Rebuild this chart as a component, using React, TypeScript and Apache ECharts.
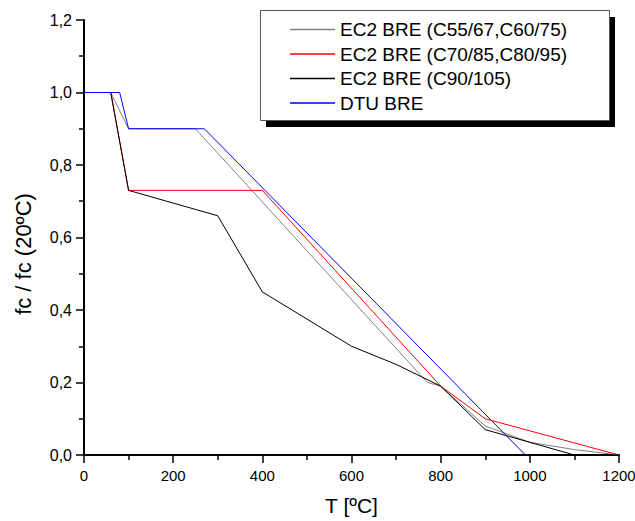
import React, { useEffect, useRef } from "react";
import * as echarts from "echarts";

const seriesNames = [
  "EC2 BRE (C55/67,C60/75)",
  "EC2 BRE (C70/85,C80/95)",
  "EC2 BRE (C90/105)",
  "DTU BRE",
];
const seriesColors = ["#808080", "#ff0000", "#000000", "#0000ff"];

const grayT = [0, 60, 100, 250, 770, 800, 900, 1000, 1100, 1200];
const grayV = [1, 1, 0.9, 0.9, 0.2, 0.19, 0.08, 0.035, 0.015, 0];

const redT = [0, 60, 100, 400, 800, 900, 1200];
const redV = [1, 1, 0.73, 0.73, 0.19, 0.1, 0];

const blackT = [0, 60, 100, 300, 400, 600, 700, 800, 900, 1000, 1100, 1200];
const blackV = [1, 1, 0.73, 0.66, 0.45, 0.3, 0.25, 0.19, 0.07, 0.035, 0, 0];

const blueT = [0, 80, 100, 270, 990];
const blueV = [1, 1, 0.9, 0.9, 0];

const xTitle = "T [ºC]";
const yTitle = "fc / fc (20ºC)";

const FONT = "Liberation Sans, Arial, sans-serif";

function pairs(t: number[], v: number[]) {
  return t.map((x, i) => [x, v[i]]);
}

export default function App() {
  const ref = useRef<HTMLDivElement>(null);
  useEffect(() => {
    if (!ref.current) return;
    const chart = echarts.init(ref.current, null, { renderer: "svg" });
    const datasets = [
      pairs(grayT, grayV),
      pairs(redT, redV),
      pairs(blackT, blackV),
      pairs(blueT, blueV),
    ];
    const axisCommon = {
      axisLine: { show: true, lineStyle: { color: "#000", width: 2 } },
      axisTick: { show: true, inside: false, length: 8, lineStyle: { color: "#000", width: 1.5 } },
      minorTick: { show: true, splitNumber: 2, length: 5, lineStyle: { color: "#000", width: 1.5 } },
      splitLine: { show: false },
      minorSplitLine: { show: false },
    };
    chart.setOption({
      animation: false,
      backgroundColor: "#fff",
      textStyle: { fontFamily: FONT },
      grid: {
        left: 84,
        right: 16,
        top: 20,
        bottom: 66,
        containLabel: false,
        outerBoundsMode: "none",
      },
      xAxis: {
        type: "value",
        min: 0,
        max: 1200,
        interval: 200,
        ...axisCommon,
        axisLabel: {
          color: "#000",
          fontSize: 15,
          margin: 13,
          fontFamily: FONT,
          formatter: (v: number) => String(v),
        },
        name: xTitle,
        nameLocation: "middle",
        nameGap: 40,
        nameTextStyle: { color: "#000", fontSize: 21, fontFamily: FONT },
      },
      yAxis: {
        type: "value",
        min: 0,
        max: 1.2,
        interval: 0.2,
        ...axisCommon,
        axisLabel: {
          color: "#000",
          fontSize: 16,
          margin: 12,
          fontFamily: FONT,
          formatter: (v: number) => v.toFixed(1).replace(".", ","),
        },
        name: yTitle,
        nameLocation: "middle",
        nameGap: 50,
        nameTextStyle: {
          color: "#000",
          fontSize: 22,
          fontFamily: FONT,
          padding: [0, 33, 0, 0],
        },
      },
      legend: {
        orient: "vertical",
        left: 285,
        top: 15,
        icon: "rect",
        itemWidth: 45,
        itemHeight: 1.5,
        itemGap: 5.5,
        z: 10,
        selectedMode: false,
        itemStyle: { borderWidth: 0, borderColor: "transparent" },
        textStyle: { color: "#000", fontSize: 19, fontFamily: FONT },
        data: seriesNames,
      },
      graphic: [
        {
          type: "rect",
          z: 5,
          shape: { x: 266, y: 17, width: 349, height: 110 },
          style: { fill: "#000" },
        },
        {
          type: "rect",
          z: 6,
          shape: { x: 260.5, y: 10.5, width: 349, height: 110 },
          style: { fill: "#fff", stroke: "#555", lineWidth: 1 },
        },
      ],
      series: datasets.map((d, i) => ({
        type: "line",
        name: seriesNames[i],
        data: d,
        symbol: "none",
        showSymbol: false,
        color: seriesColors[i],
        lineStyle: { color: seriesColors[i], width: 1 },
        itemStyle: { color: seriesColors[i] },
        z: 2 + i,
      })),
    });
    return () => chart.dispose();
  }, []);
  return (
    <div
      ref={ref}
      style={{ position: "absolute", left: 0, top: 0, width: 635, height: 521 }}
    />
  );
}
